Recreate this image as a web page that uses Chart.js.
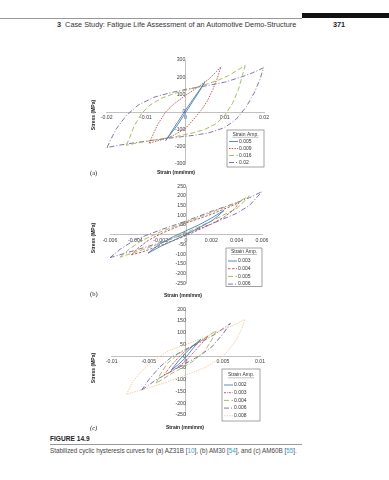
<!DOCTYPE html>
<html>
<head>
<meta charset="utf-8">
<script src="https://cdn.jsdelivr.net/npm/chart.js@4.4.0/dist/chart.umd.min.js"></script>
<style>
  body { margin: 0; background: #fff; }
  #page { position: relative; width: 389px; height: 480px; overflow: hidden; font-family: "Liberation Sans", Arial, sans-serif; color: #222; }
  canvas { position: absolute; left: 0; }
  .abs { position: absolute; white-space: nowrap; }
  .ytitle { font-size: 5px; font-weight: bold; transform: translate(-50%, -50%) rotate(-90deg); }
  .xtitle { font-size: 5px; font-weight: bold; transform: translate(-50%, -50%); }
  .panel { font-family: "Liberation Serif", serif; font-size: 6.5px; transform: translateY(-50%); }
  .ref { color: #3a9fd0; }
</style>
</head>
<body>
<div id="page">
  <div class="abs" style="left:0;top:18px;width:302px;height:0;border-top:0.6px solid #999;"></div>
  <div class="abs" style="left:302px;top:13px;width:87px;height:5px;background:#111;"></div>
  <div class="abs" style="left:57px;top:20px;font-size:7.3px;color:#333;"><b>3</b>&nbsp; Case Study: Fatigue Life Assessment of an Automotive Demo-Structure</div>
  <div class="abs" style="left:333px;top:20px;font-size:7.3px;font-weight:bold;color:#222;">371</div>

  <canvas id="chartA" width="389" height="125" style="top:50px"></canvas>
  <canvas id="chartB" width="389" height="120" style="top:180px"></canvas>
  <canvas id="chartC" width="389" height="130" style="top:300px"></canvas>

  <div class="abs ytitle" style="left:93px;top:115px;">Stress (MPa)</div>
  <div class="abs xtitle" style="left:176px;top:172px;">Strain (mm/mm)</div>
  <div class="abs panel" style="left:90px;top:172px;">(a)</div>

  <div class="abs ytitle" style="left:93px;top:238px;">Stress (MPa)</div>
  <div class="abs xtitle" style="left:183px;top:295px;">Strain (mm/mm)</div>
  <div class="abs panel" style="left:90px;top:293px;">(b)</div>

  <div class="abs ytitle" style="left:93px;top:368px;">Stress (MPa)</div>
  <div class="abs xtitle" style="left:185px;top:427px;">Strain (mm/mm)</div>
  <div class="abs panel" style="left:90px;top:427px;font-style:italic;">(c)</div>

  <div class="abs" style="left:50px;top:435px;font-size:6.6px;font-weight:bold;color:#222;">FIGURE 14.9</div>
  <div class="abs" style="left:50px;top:444px;width:252px;height:0;border-top:0.6px solid #999;"></div>
  <div class="abs" style="left:50px;top:447px;font-size:6.3px;color:#444;">Stabilized cyclic hysteresis curves for (a) AZ31B [<span class="ref">10</span>], (b) AM30 [<span class="ref">54</span>], and (c) AM60B [<span class="ref">55</span>].</div>
</div>

<script>
// ---- (a) AZ31B ----
var xTicksA = [-0.02, -0.01, 0, 0.01, 0.02];
var xLabelsA = ['-0.02', '-0.01', '0', '0.01', '0.02'];
var yTicksA = [-300, -200, -100, 0, 100, 200, 300];
var ampLabelsA = ['0.005', '0.009', '0.016', '0.02'];

var strainA1 = [-0.005, -0.004, -0.002, 0, 0.002, 0.004, 0.005, 0.004, 0.002, 0, -0.002, -0.004, -0.005];
var stressA1 = [-165, -130, -60, 10, 75, 140, 175, 135, 65, -5, -75, -135, -165];

var strainA2 = [-0.0092, -0.008, -0.007, -0.005, -0.003, 0, 0.003, 0.006, 0.008, 0.009,
                0.0082, 0.007, 0.0055, 0.004, 0.002, 0, -0.003, -0.006, -0.0092];
var stressA2 = [-180, -120, -70, 0, 45, 95, 140, 190, 235, 260,
                200, 130, 60, 10, -45, -95, -135, -160, -180];

var strainA3 = [-0.015, -0.0142, -0.013, -0.011, -0.009, -0.006, -0.003, 0, 0.004, 0.008, 0.011, 0.0135, 0.0152,
                0.0145, 0.0135, 0.012, 0.01, 0.008, 0.005, 0.002, -0.002, -0.006, -0.01, -0.013, -0.015];
var stressA3 = [-192, -150, -80, -5, 40, 80, 105, 125, 150, 180, 210, 245, 268,
                210, 130, 50, -20, -65, -100, -120, -140, -155, -170, -182, -192];

var strainA4 = [-0.0199, -0.019, -0.0175, -0.015, -0.012, -0.008, -0.004, 0, 0.005, 0.01, 0.014, 0.017, 0.0199,
                0.019, 0.0175, 0.0155, 0.013, 0.01, 0.006, 0.002, -0.003, -0.008, -0.013, -0.017, -0.0199];
var stressA4 = [-205, -160, -95, -20, 40, 85, 110, 130, 150, 172, 200, 225, 255,
                190, 110, 30, -40, -90, -120, -135, -148, -162, -178, -192, -205];

// ---- (b) AM30 ----
var xTicksB = [-0.006, -0.004, -0.002, 0, 0.002, 0.004, 0.006];
var xLabelsB = ['-0.006', '-0.004', '-0.002', '0', '0.002', '0.004', '0.006'];
var yTicksB = [-250, -200, -150, -100, -50, 0, 50, 100, 150, 200, 250];
var ampLabelsB = ['0.003', '0.004', '0.005', '0.006'];

var strainB1 = [-0.003, -0.0025, -0.002, -0.001, 0, 0.001, 0.002, 0.003, 0.0025, 0.002, 0.001, 0, -0.001, -0.002, -0.003];
var stressB1 = [-95, -70, -45, -10, 20, 50, 85, 125, 95, 70, 35, 0, -30, -60, -95];

var strainB2 = [-0.0043, -0.0038, -0.003, -0.002, 0, 0.002, 0.0035, 0.0042, 0.0038, 0.003, 0.002, 0, -0.002, -0.0035, -0.0043];
var stressB2 = [-103, -70, -30, 5, 60, 105, 145, 165, 130, 90, 55, -5, -55, -90, -103];

var strainB3 = [-0.0052, -0.0045, -0.0035, -0.002, 0, 0.002, 0.004, 0.005, 0.0045, 0.004, 0.002, 0, -0.002, -0.004, -0.0052];
var stressB3 = [-115, -75, -30, 15, 65, 115, 165, 200, 165, 135, 70, 10, -45, -90, -115];

var strainB4 = [-0.006, -0.0052, -0.004, -0.002, 0, 0.002, 0.004, 0.005, 0.006, 0.0055, 0.005, 0.004, 0.002, 0, -0.002, -0.004, -0.006];
var stressB4 = [-118, -75, -25, 25, 70, 120, 165, 190, 222, 185, 150, 110, 55, 5, -40, -80, -118];

// ---- (c) AM60B ----
var xTicksC = [-0.01, -0.005, 0, 0.005, 0.01];
var xLabelsC = ['-0.01', '-0.005', '0', '0.005', '0.01'];
var yTicksC = [-250, -200, -150, -100, -50, 0, 50, 100, 150, 200];
var ampLabelsC = ['0.002', '0.003', '0.004', '0.006', '0.008'];

var strainC1 = [-0.002, -0.001, 0, 0.001, 0.002, 0.001, 0, -0.001, -0.002];
var stressC1 = [-60, -20, 15, 45, 72, 35, -5, -35, -60];

var strainC2 = [-0.003, -0.002, -0.001, 0, 0.0015, 0.003, 0.002, 0.001, 0, -0.0015, -0.003];
var stressC2 = [-82, -40, -5, 25, 55, 85, 50, 15, -20, -55, -82];

var strainC3 = [-0.004, -0.0035, -0.0025, -0.001, 0, 0.002, 0.0041, 0.0035, 0.0025, 0.001, 0, -0.002, -0.004];
var stressC3 = [-115, -80, -30, 10, 30, 65, 110, 70, 20, -20, -40, -75, -115];

var strainC4 = [-0.006, -0.005, -0.0035, -0.002, 0, 0.002, 0.004, 0.006, 0.005, 0.0035, 0.002, 0, -0.002, -0.004, -0.006];
var stressC4 = [-145, -100, -45, -5, 30, 60, 95, 140, 95, 40, 5, -30, -65, -100, -145];

var strainC5 = [-0.008, -0.0072, -0.006, -0.0048, -0.0026, 0, 0.002, 0.004, 0.006, 0.008,
                0.0075, 0.0068, 0.006, 0.005, 0.0028, 0, -0.003, -0.006, -0.008];
var stressC5 = [-162, -110, -65, -30, 20, 50, 75, 100, 125, 157,
                115, 70, 35, 0, -45, -80, -115, -143, -162];

var loopColors = ['#4a7ebb', '#be4b48', '#98b954', '#7d60a0', '#f3cc9c'];

function pts(xs, ys) {
    return xs.map(function (x, i) { return { x: x, y: ys[i] }; });
}

function loop(label, xs, ys, color, dash) {
    return {
        label: label,
        data: pts(xs, ys),
        showLine: true,
        borderColor: color,
        backgroundColor: color,
        borderWidth: 0.9,
        borderDash: dash,
        pointRadius: 0,
        tension: 0,
        clip: false
    };
}

// draws the boxed "Strain Amp." key
const ampLegend = {
    id: 'ampLegend',
    afterDraw(chart, args, opts) {
        const ctx = chart.ctx;
        ctx.save();
        ctx.fillStyle = '#fff';
        ctx.fillRect(opts.x, opts.y, opts.w, opts.h);
        ctx.strokeStyle = '#666';
        ctx.lineWidth = 0.6;
        ctx.strokeRect(opts.x, opts.y, opts.w, opts.h);
        ctx.font = '5px "Liberation Sans", Arial, sans-serif';
        ctx.fillStyle = '#333';
        ctx.textBaseline = 'middle';
        ctx.textAlign = 'center';
        const cx = opts.x + opts.w / 2;
        ctx.fillText(opts.title, cx, opts.titleY);
        const tw = ctx.measureText(opts.title).width;
        ctx.lineWidth = 0.4;
        ctx.beginPath();
        ctx.moveTo(cx - tw / 2, opts.titleY + 2.8);
        ctx.lineTo(cx + tw / 2, opts.titleY + 2.8);
        ctx.stroke();
        ctx.textAlign = 'left';
        chart.data.datasets.forEach(function (ds, i) {
            const y = opts.itemY + i * opts.gap;
            ctx.strokeStyle = ds.borderColor;
            ctx.lineWidth = ds.borderWidth;
            ctx.setLineDash(ds.borderDash || []);
            ctx.beginPath();
            ctx.moveTo(opts.x + 2, y);
            ctx.lineTo(opts.x + 2 + opts.sample, y);
            ctx.stroke();
            ctx.setLineDash([]);
            ctx.fillStyle = '#333';
            ctx.fillText(ds.label, opts.x + 3 + opts.sample, y);
        });
        ctx.restore();
    }
};

const tickFont = { family: '"Liberation Sans", Arial, sans-serif', size: 5.2 };

function makeChart(id, datasets, xr, yr, xTicks, xLabels, yTicks, pad, legend) {
    return new Chart(document.getElementById(id), {
        type: 'scatter',
        data: { datasets: datasets },
        options: {
            responsive: false,
            animation: false,
            devicePixelRatio: 1,
            layout: { padding: pad },
            plugins: { legend: { display: false }, tooltip: { enabled: false }, ampLegend: legend },
            scales: {
                x: {
                    type: 'linear',
                    min: xr[0], max: xr[1],
                    position: { y: 0 },
                    afterBuildTicks: function (s) { s.ticks = xTicks.map(function (v) { return { value: v }; }); },
                    grid: { display: false, drawTicks: false },
                    border: { display: true, color: '#a6a6a6', width: 0.7 },
                    ticks: {
                        font: tickFont, color: '#404040', padding: 2.5, maxRotation: 0, autoSkip: false,
                        callback: function (v, i) { return xLabels[i]; }
                    }
                },
                y: {
                    type: 'linear',
                    min: yr[0], max: yr[1],
                    position: { x: 0 },
                    afterBuildTicks: function (s) { s.ticks = yTicks.map(function (v) { return { value: v }; }); },
                    grid: { display: false, drawTicks: false },
                    border: { display: true, color: '#a6a6a6', width: 0.7 },
                    ticks: {
                        font: tickFont, color: '#404040', padding: 3, autoSkip: false,
                        callback: function (v) { return String(v); }
                    }
                }
            }
        },
        plugins: [ampLegend]
    });
}

makeChart('chartA', [
    loop(ampLabelsA[0], strainA1, stressA1, loopColors[0], []),
    loop(ampLabelsA[1], strainA2, stressA2, loopColors[1], [1.5, 1.2]),
    loop(ampLabelsA[2], strainA3, stressA3, loopColors[2], [5, 2.5]),
    loop(ampLabelsA[3], strainA4, stressA4, loopColors[3], [5, 2, 1, 2])
], [-0.02, 0.02], [-300, 300], xTicksA, xLabelsA, yTicksA,
    { left: 106.7, right: 125, top: 10, bottom: 11 },
    { x: 227, y: 130 - 50, w: 37, h: 37, title: 'Strain Amp.', titleY: 134.5 - 50, itemY: 141.5 - 50, gap: 7, sample: 9 });

makeChart('chartB', [
    loop(ampLabelsB[0], strainB1, stressB1, loopColors[0], []),
    loop(ampLabelsB[1], strainB2, stressB2, loopColors[1], [2.5, 1.5]),
    loop(ampLabelsB[2], strainB3, stressB3, loopColors[2], [5, 2.5]),
    loop(ampLabelsB[3], strainB4, stressB4, loopColors[3], [5, 2, 1, 2])
], [-0.006, 0.006], [-250, 250], xTicksB, xLabelsB, yTicksB,
    { left: 110, right: 127, top: 5.7, bottom: 16.7 },
    { x: 226, y: 248 - 180, w: 36, h: 38.5, title: 'Strain Amp.', titleY: 251.7 - 180, itemY: 261 - 180, gap: 7.7, sample: 9 });

makeChart('chartC', [
    loop(ampLabelsC[0], strainC1, stressC1, loopColors[0], []),
    loop(ampLabelsC[1], strainC2, stressC2, loopColors[1], [2, 1, 0.8, 1]),
    loop(ampLabelsC[2], strainC3, stressC3, loopColors[2], [5, 2.5]),
    loop(ampLabelsC[3], strainC4, stressC4, loopColors[3], [5, 2, 1, 2]),
    loop(ampLabelsC[4], strainC5, stressC5, loopColors[4], [1.5, 1])
], [-0.01, 0.01], [-250, 200], xTicksC, xLabelsC, yTicksC,
    { left: 111.7, right: 129, top: 9.3, bottom: 15 },
    { x: 222, y: 369 - 300, w: 38, h: 52, title: 'Strain Amp.', titleY: 375 - 300, itemY: 385 - 300, gap: 7.7, sample: 9 });
</script>
</body>
</html>
